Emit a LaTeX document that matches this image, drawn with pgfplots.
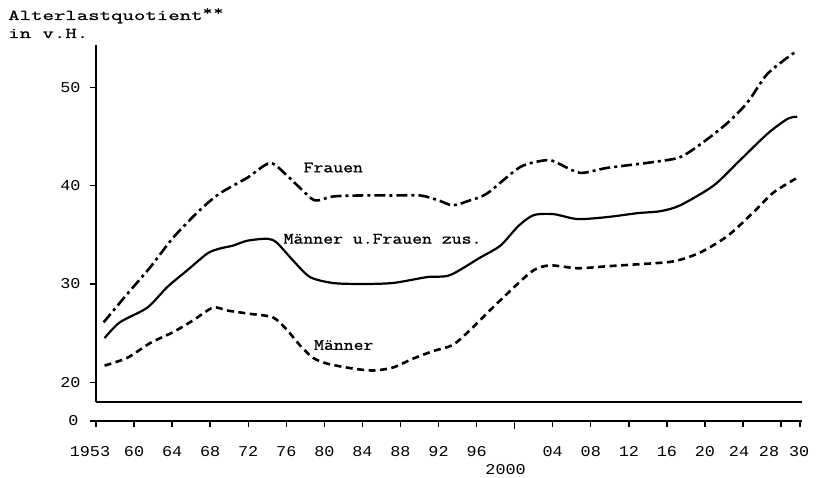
\documentclass[border=0pt]{standalone}
\usepackage{fontspec}
\setmainfont{Liberation Mono}
\newfontfamily\tw[FakeStretch=1.12]{Liberation Mono}
\newfontfamily\ttl[FakeStretch=1.48, FakeBold=1]{Latin Modern Mono}
\newfontfamily\lbl[FakeStretch=1.2, FakeBold=1]{Latin Modern Mono}
\usepackage{pgfplots}
\pgfplotsset{compat=1.18}
\begin{document}
\begin{tikzpicture}
\useasboundingbox (0pt,0pt) rectangle (817pt,477pt);
\node[anchor=base west, inner sep=0pt, font=\ttl\fontsize{15}{18}\selectfont] at (8pt,457pt) {Alterlastquotient\raisebox{5pt}{\fontsize{13}{13}\selectfont*\hspace{1pt}*}};
\node[anchor=base west, inner sep=0pt, font=\ttl\fontsize{15}{18}\selectfont] at (8pt,439pt) {in v.H.};
\begin{axis}[
  at={(96pt,75pt)}, anchor=south west, scale only axis,
  width=706pt, height=357pt,
  xmin=1956, xmax=2030.2, ymin=18, ymax=54.3,
  axis x line=bottom, axis y line=left,
  axis line style={-, line width=1.6pt},
  xtick=\empty, ytick={20,30,40,50},
  tick align=outside, major tick length=6pt,
  tick style={line width=1.4pt, black},
  /pgf/number format/assume math mode=true,
  yticklabel style={font=\tw\fontsize{15}{15}\selectfont, xshift=-6pt},
  clip=false,
]
\addplot[black, line width=2.6pt, smooth, tension=0.45, dash pattern=on 11pt off 4pt on 3pt off 4pt] coordinates {
(1956.8,26.1)(1959.3,29.0)(1961.7,31.7)(1964.1,34.7)(1966.9,37.5)(1969.0,39.2)(1971.9,40.8)(1974.3,42.3)(1976.1,41.0)(1977.4,39.8)(1979.0,38.5)(1980.9,38.9)(1983.8,39.0)(1987.2,39.0)(1990.1,39.0)(1992.0,38.5)(1993.5,38.0)(1995.3,38.5)(1997.1,39.2)(2000.6,41.9)(2003.4,42.6)(2004.5,42.3)(2006.9,41.3)(2009.7,41.8)(2014.6,42.4)(2017.4,42.9)(2019.8,44.4)(2022.4,46.4)(2024.5,48.5)(2026.6,51.4)(2029.5,53.6)
};
\addplot[black, line width=2.2pt, smooth, tension=0.45] coordinates {
(1956.9,24.5)(1958.5,26.1)(1961.4,27.6)(1963.5,29.7)(1965.6,31.4)(1967.7,33.1)(1969.0,33.6)(1970.4,33.9)(1971.9,34.4)(1974.0,34.6)(1975.0,34.2)(1976.7,32.4)(1978.5,30.7)(1980.9,30.1)(1983.8,30.0)(1987.2,30.1)(1990.8,30.7)(1993.2,30.9)(1996.4,32.7)(1998.5,33.9)(2000.4,35.9)(2002.0,37.0)(2004.1,37.1)(2006.6,36.6)(2009.7,36.8)(2012.9,37.2)(2015.3,37.4)(2017.4,38.0)(2020.9,40.0)(2023.7,42.6)(2026.6,45.3)(2028.7,46.8)(2029.7,47.0)
};
\addplot[black, line width=2.6pt, smooth, tension=0.45, dash pattern=on 7pt off 4.5pt] coordinates {
(1956.9,21.7)(1959.3,22.5)(1961.7,24.0)(1964.1,25.1)(1966.2,26.3)(1968.3,27.6)(1969.8,27.3)(1971.9,27.0)(1974.6,26.6)(1976.1,25.3)(1977.4,23.8)(1978.8,22.5)(1980.3,21.9)(1983.0,21.4)(1985.1,21.2)(1987.2,21.5)(1989.3,22.4)(1991.5,23.2)(1993.5,23.8)(1995.3,25.3)(1997.7,27.6)(2000.3,30.0)(2002.0,31.4)(2003.7,31.9)(2006.6,31.6)(2009.7,31.8)(2012.9,32.0)(2016.7,32.3)(2019.5,33.2)(2022.4,34.9)(2025.1,37.3)(2027.2,39.3)(2029.7,40.8)
};
\node[anchor=base west, inner sep=0pt, font=\lbl\fontsize{16}{16}\selectfont] at (axis cs:1977.8,41.35) {Frauen};
\node[anchor=base west, inner sep=0pt, font=\lbl\fontsize{16}{16}\selectfont] at (axis cs:1975.7,34.1) {Männer u.Frauen zus.};
\node[anchor=base west, inner sep=0pt, font=\lbl\fontsize{16}{16}\selectfont] at (axis cs:1978.9,23.3) {Männer};
\end{axis}
\begin{axis}[
  at={(96pt,56pt)}, anchor=south west, scale only axis,
  width=706pt, height=10pt,
  xmin=1956, xmax=2030.2, ymin=0, ymax=1,
  axis x line=bottom, axis y line=left,
  x axis line style={-, line width=1.6pt},
  y axis line style={draw=none},
  xtick={1956,1960,1964,1968,1972,1976,1980,1984,1988,1992,1996,2004,2008,2012,2016,2020,2024,2028,2030},
  xticklabels={\hspace*{-12pt}1953,60,64,68,72,76,80,84,88,92,96,04,08,12,16,20,\hspace*{-8pt}24,\hspace*{-24pt}28,30\hspace*{2pt}},
  extra x ticks={2000}, extra x tick labels={\hspace*{-18pt}2000},
  extra x tick style={major tick length=8pt, xticklabel style={yshift=-16pt}},
  ytick={0}, yticklabels={0},
  tick align=outside, major tick length=6pt,
  tick style={line width=1.4pt, black},
  /pgf/number format/assume math mode=true,
  xticklabel style={font=\tw\fontsize{15}{15}\selectfont, yshift=-16pt},
  yticklabel style={font=\tw\fontsize{15}{15}\selectfont, xshift=-8pt},
]
\addplot[draw=none] coordinates {(1960,0.5)};
\end{axis}
\end{tikzpicture}
\end{document}
